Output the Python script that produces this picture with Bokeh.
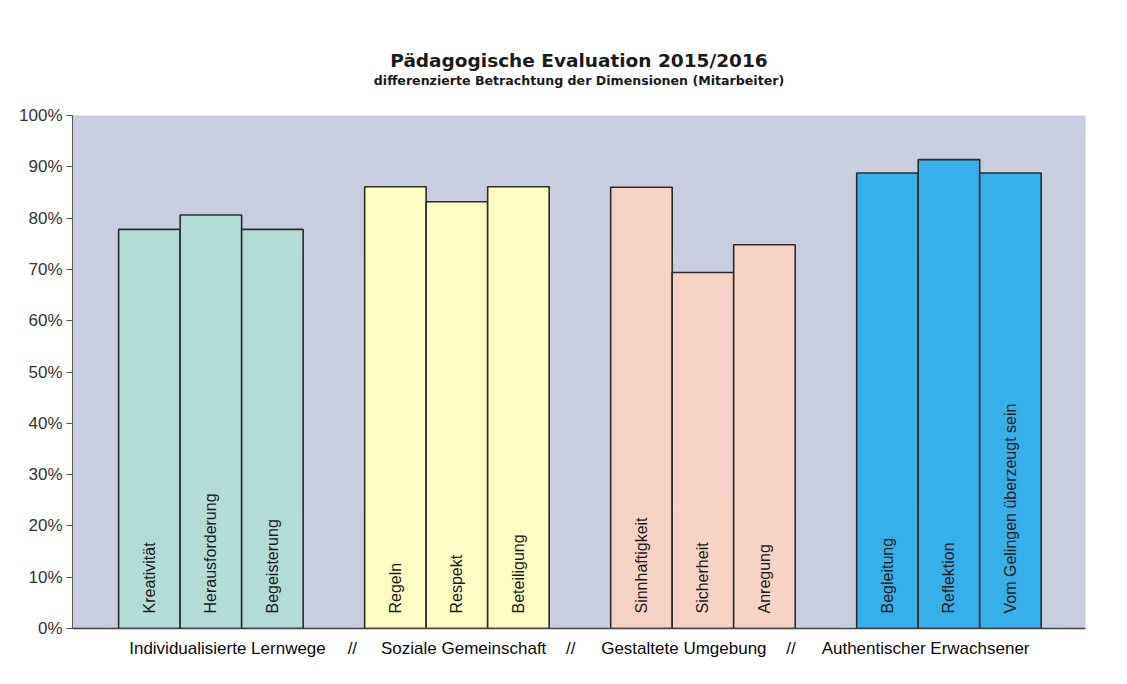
import math
from bokeh.plotting import figure
from bokeh.models import FixedTicker, NumeralTickFormatter, Range1d, ColumnDataSource, Title
from bokeh.core.properties import value
from bokeh.embed import file_html
from bokeh.resources import INLINE

# ---- data ----
groups = ["Individualisierte Lernwege", "Soziale Gemeinschaft",
          "Gestaltete Umgebung", "Authentischer Erwachsener"]
items_g1 = ["Kreativität", "Herausforderung", "Begeisterung"]
items_g2 = ["Regeln", "Respekt", "Beteiligung"]
items_g3 = ["Sinnhaftigkeit", "Sicherheit", "Anregung"]
items_g4 = ["Begleitung", "Reflektion", "Vom Gelingen überzeugt sein"]
values_g1 = [0.778, 0.806, 0.778]
values_g2 = [0.861, 0.832, 0.861]
values_g3 = [0.860, 0.694, 0.748]
values_g4 = [0.888, 0.914, 0.888]
y_ticks = [0.0, 0.1, 0.2, 0.3, 0.4, 0.5, 0.6, 0.7, 0.8, 0.9, 1.0]

group_items = [items_g1, items_g2, items_g3, items_g4]
group_values = [values_g1, values_g2, values_g3, values_g4]
group_colors = ["#b4dcd6", "#fcfcc4", "#f7d3c6", "#37b0ea"]
bg_color = "#c8cde0"

# layout: each group = 3 bar slots + 1 gap slot
xs, tops, names, fills = [], [], [], []
for g, (its, vals) in enumerate(zip(group_items, group_values)):
    for i, (n, v) in enumerate(zip(its, vals)):
        xs.append(g * 4 + i + 0.5)
        tops.append(v)
        names.append(n)
        fills.append(group_colors[g])
src = ColumnDataSource(dict(x=xs, top=tops, name=names, fill=fills))

p = figure(width=1111, height=668, output_backend="svg", toolbar_location=None,
           x_range=Range1d(-0.75, 15.72), y_range=Range1d(0, 1),
           min_border_left=72, min_border_right=26, min_border_top=115, min_border_bottom=40)
p.background_fill_color = bg_color
p.border_fill_color = "white"
p.outline_line_color = None
p.grid.visible = False

p.vbar(x="x", top="top", bottom=0, width=1.0, source=src, fill_color="fill",
       line_color="#2b2b2b", line_width=1.6)

p.text(x="x", y=0, text="name", source=src, angle=math.pi / 2,
       text_align="left", text_baseline="middle", y_offset=-15,
       text_font=value("Liberation Sans"), text_font_size="16px", text_color="#1a1a1a")

# y axis
p.yaxis.ticker = FixedTicker(ticks=y_ticks)
p.yaxis.formatter = NumeralTickFormatter(format="0%")
p.yaxis.major_label_text_font = "Liberation Sans"
p.yaxis.major_label_text_font_size = "17px"
p.yaxis.major_label_text_color = "#333333"
p.yaxis.major_tick_in = 0
p.yaxis.major_tick_out = 6
p.yaxis.minor_tick_line_color = None
p.yaxis.axis_line_color = "#555555"
p.yaxis.major_tick_line_color = "#555555"
p.yaxis.major_label_standoff = 4

# x axis: group labels with separators
label_x = [1.77, 3.8, 5.61, 7.35, 9.19, 10.93, 13.12]
label_txt = [groups[0], "//", groups[1], "//", groups[2], "//", groups[3]]
p.xaxis.ticker = FixedTicker(ticks=label_x)
p.xaxis.major_label_overrides = {lx: lt for lx, lt in zip(label_x, label_txt)}
p.xaxis.axis_line_color = "#444444"
p.xaxis.axis_line_width = 1.5
p.xaxis.major_tick_line_color = None
p.xaxis.major_tick_in = 0
p.xaxis.major_tick_out = 0
p.xaxis.minor_tick_line_color = None
p.xaxis.major_label_standoff = 10
p.xaxis.major_label_text_font = "Liberation Sans"
p.xaxis.major_label_text_font_size = "17px"
p.xaxis.major_label_text_color = "#0a0a0a"

# spacer, subtitle, title (added nearest-first)
p.add_layout(Title(text=" ", text_font_size="10px", standoff=15), "above")
p.add_layout(Title(text="differenzierte Betrachtung der Dimensionen (Mitarbeiter)",
                   align="center", text_font="DejaVu Sans",
                   text_font_style="bold", text_font_size="12.6px", text_color="#1a1a1a",
                   standoff=0), "above")
p.add_layout(Title(text="Pädagogische Evaluation 2015/2016",
                   align="center", text_font="DejaVu Sans", text_font_style="bold",
                   text_font_size="18.5px", text_color="#1a1a1a", standoff=0), "above")

open("out.html", "w").write(file_html(p, INLINE))
